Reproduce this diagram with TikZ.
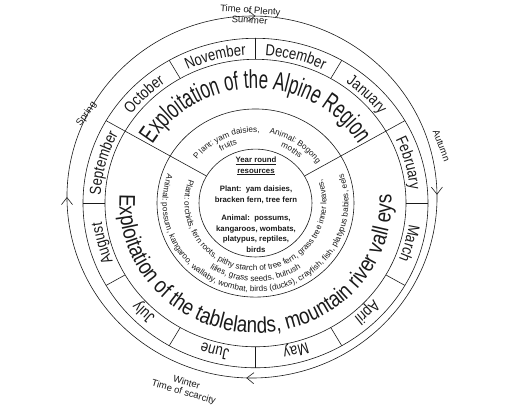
\documentclass[tikz,border=0pt]{standalone}
\usepackage{fontspec}
\setmainfont{Liberation Sans}
\usetikzlibrary{arrows.meta,decorations.text,decorations.markings}
\newfontfamily\monthfam[FakeStretch=0.82]{Liberation Sans}
\newfontfamily\alpinefam[FakeStretch=0.65]{Liberation Sans}
\newfontfamily\tablefam[FakeStretch=0.83]{Liberation Sans}
\newcommand{\monthfont}{\monthfam\fontsize{16}{18}\selectfont}
\newcommand{\alpinefont}{\alpinefam\fontsize{26}{28}\selectfont}
\newcommand{\tablefont}{\tablefam\fontsize{22.5}{25}\selectfont}
\newcommand{\foodfont}{\fontsize{8.2}{10}\selectfont}
\definecolor{Ink}{HTML}{1A1A1A}

\begin{document}
\begin{tikzpicture}[
    x=1pt, y=0.955pt,
    ring/.style={draw=Ink, line width=0.6pt},
    curved/.style 2 args={decorate, decoration={text along path, text align=center, text color=Ink, text={|#1|#2}}},
    season/.style={font=\fontsize{9.5}{10}\selectfont, align=center, inner sep=0pt, text=Ink},
    yearly/.style={font=\bfseries\fontsize{7.8}{10.5}\selectfont, align=center, text=Ink}
  ]
  \useasboundingbox (-255.5,-215.7) rectangle (256.5,212.6);
  \coordinate (hub) at (0,0);
  \coordinate (cycle) at (-3.5,6.3);

  % rings
  \draw[ring] (hub) circle[radius=56.5];
  \draw[ring] (hub) circle[radius=98.5];
  \draw[ring] (hub) circle[radius=150.5];
  \draw[ring] (hub) circle[radius=172.5];
  \foreach \a in {30,150}
    \draw[ring] (\a:56.5) -- (\a:172.5);
  \foreach \a in {0,60,90,120,180,210,240,270,300,330}
    \draw[ring] (\a:150.5) -- (\a:172.5);

  % seasons
  \draw[ring, postaction={decorate}, decoration={markings,
      mark=at position 0.031 with {\arrow{Straight Barb[length=7pt,width=11pt]}},
      mark=at position 0.276 with {\arrow{Straight Barb[length=7pt,width=11pt]}},
      mark=at position 0.533 with {\arrow{Straight Barb[length=7pt,width=11pt]}},
      mark=at position 0.778 with {\arrow{Straight Barb[length=7pt,width=11pt]}}}]
    (cycle) ++(100:185 and 189.5) arc[start angle=100, end angle=-260, x radius=185, y radius=189.5];
  \node[season, rotate=-4] (summer) at (-5.5,197) {Time of Plenty\\Summer};
  \node[season, rotate=-69] (autumn) at (186,60) {Autumn};
  \node[season, rotate=-16] (winter) at (-70.5,-193.5) {Winter\\Time of scarcity};
  \node[season, rotate=55] (spring) at (-169,93) {Spring};

  % months
  \path[curved={\monthfont}{September}] (205:155) arc[start angle=205, end angle=125, radius=155];
  \path[curved={\monthfont}{October}] (175:155) arc[start angle=175, end angle=95, radius=155];
  \path[curved={\monthfont}{November}] (145:155) arc[start angle=145, end angle=65, radius=155];
  \path[curved={\monthfont}{December}] (115:155) arc[start angle=115, end angle=35, radius=155];
  \path[curved={\monthfont}{January}] (85:155) arc[start angle=85, end angle=5, radius=155];
  \path[curved={\monthfont}{February}] (55:155) arc[start angle=55, end angle=-25, radius=155];
  \path[curved={\monthfont}{March}] (25:155) arc[start angle=25, end angle=-55, radius=155];
  \path[curved={\monthfont}{April}] (-5:155) arc[start angle=-5, end angle=-85, radius=155];
  \path[curved={\monthfont}{May}] (-35:155) arc[start angle=-35, end angle=-115, radius=155];
  \path[curved={\monthfont}{June}] (-65:155) arc[start angle=-65, end angle=-145, radius=155];
  \path[curved={\monthfont}{July}] (-95:155) arc[start angle=-95, end angle=-175, radius=155];
  \path[curved={\monthfont}{August}] (-125:155) arc[start angle=-125, end angle=-205, radius=155];

  % regions
  \path[curved={\alpinefont}{Exploitation of the Alpine Region}] (175:120) arc[start angle=175, end angle=5, radius=120];
  \path[curved={\tablefont}{Exploitation of the tablelands, mountain river vall eys}] (150:136) arc[start angle=150, end angle=390, radius=136];

  % seasonal food
  \path[curved={\foodfont}{P lant: yam daisies,}] (165:74) arc[start angle=165, end angle=65, radius=74];
  \path[curved={\foodfont}{fruits}] (165:64) arc[start angle=165, end angle=65, radius=64];
  \path[curved={\foodfont}{Animal: Bogong}] (106:74) arc[start angle=106, end angle=6, radius=74];
  \path[curved={\foodfont}{moths}] (106:64) arc[start angle=106, end angle=6, radius=64];
  \path[curved={\foodfont}{Plant: orchids, fern roots, pithy starch of tree fern, grass tree inner leaves,}] (150:71) arc[start angle=150, end angle=390, radius=71];
  \path[curved={\foodfont}{lilies, grass seeds, bulrush}] (150:82) arc[start angle=150, end angle=390, radius=82];
  \path[curved={\foodfont}{Animal: possum, kangaroo, wallaby, wombat, birds (ducks), crayfish, fish, platypus babies, eels}] (150:93) arc[start angle=150, end angle=390, radius=93];

  \node[yearly] (yearround) at (0.5,-1.6) {\underline{Year round}\\\underline{resources}\\[8pt]
    Plant:\ \ yam daisies,\\bracken fern, tree fern\\[8pt]
    Animal:\ \ possums,\\kangaroos, wombats,\\platypus, reptiles,\\birds};
\end{tikzpicture}
\end{document}
